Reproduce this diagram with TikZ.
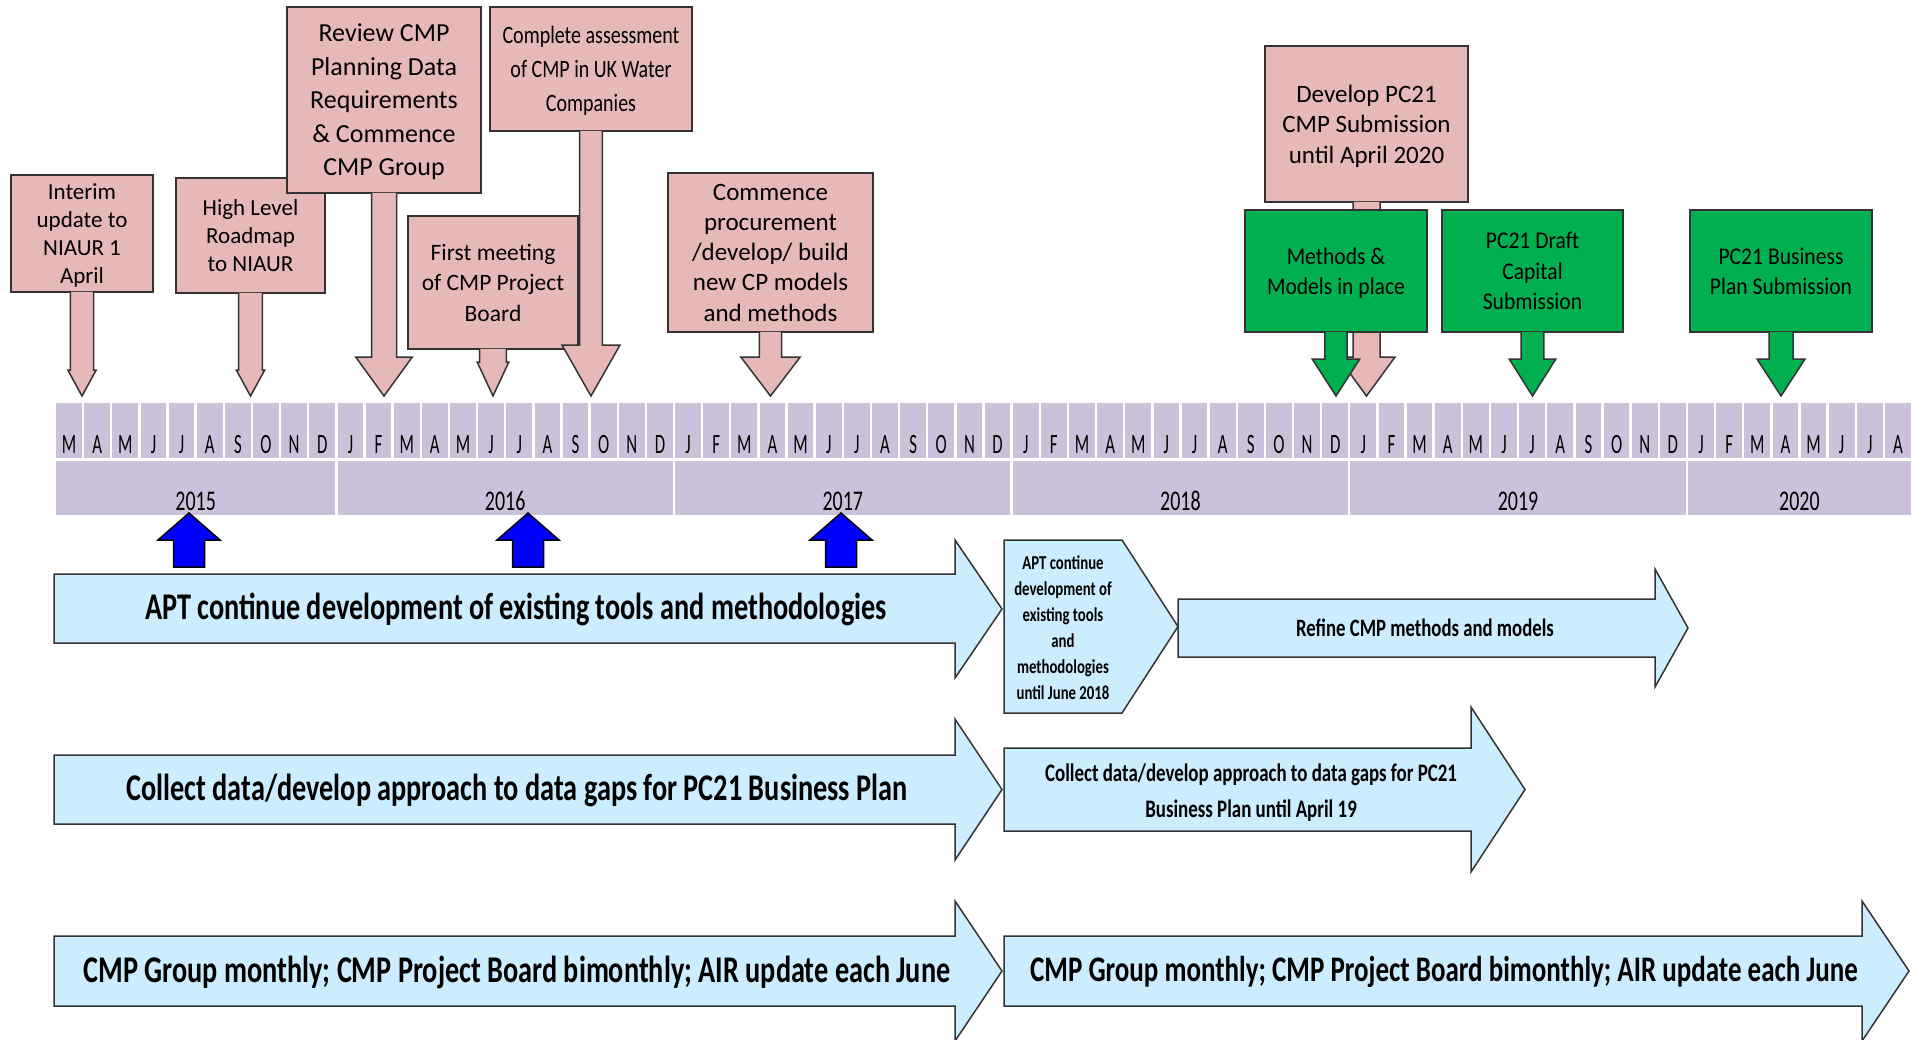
\documentclass[tikz,border=0pt]{standalone}
\usepackage{fontspec}
\setmainfont{Carlito}
\newfontfamily\monthfont[FakeStretch=0.6]{Carlito}
\newfontfamily\yearfont[FakeStretch=0.7]{Carlito}
\newfontfamily\barfont[FakeStretch=0.75]{Carlito}
\newfontfamily\greenfont[FakeStretch=0.9]{Carlito}
\newfontfamily\narrowfont[FakeStretch=0.8]{Carlito}
\usetikzlibrary{calc}

\definecolor{boxpink}{HTML}{E6B9B8}
\definecolor{boxgreen}{HTML}{00B050}
\definecolor{lav}{HTML}{CCC1DA}
\definecolor{barblue}{HTML}{CCECFF}

\tikzstyle{pinkbox} = [rectangle, draw=black!80, line width=1.5pt, fill=boxpink, align=center, inner sep=0pt, text depth=0pt, font=\fontsize{23}{28}\selectfont]
\tikzstyle{greenbox} = [pinkbox, fill=boxgreen, font=\greenfont\fontsize{24}{29.5}\selectfont]
\tikzstyle{pinkarrow} = [draw=black!80, line width=1.5pt, fill=boxpink, line join=miter]
\tikzstyle{greenarrow} = [pinkarrow, fill=boxgreen]
\tikzstyle{bararrow} = [draw=black!80, line width=1.5pt, fill=barblue, line join=miter]
\tikzstyle{bluearrow} = [draw=black, line width=1.5pt, fill=blue, line join=miter]
\tikzstyle{monthlabel} = [anchor=base, inner sep=0pt, font=\monthfont\fontsize{28}{30}\selectfont]
\tikzstyle{yearlabel} = [anchor=base, inner sep=0pt, font=\yearfont\fontsize{28.5}{30}\selectfont]
\tikzstyle{bartext} = [inner sep=0pt, align=center, font=\barfont\bfseries\fontsize{37.7}{45}\selectfont]

% callout arrow: style, box, tip, stem half width, head half width, head length
\newcommand{\downblock}[6]{%
  \path[#1] let \p1=(#2.south), \p2=(#3) in
    (\x1-#4,\y1+1pt) -- (\x1-#4,\y2+#6) -- (\x1-#5,\y2+#6) -- (\x1,\y2)
    -- (\x1+#5,\y2+#6) -- (\x1+#4,\y2+#6) -- (\x1+#4,\y1+1pt);
}
\newcommand{\upblock}[1]{%
  \path[bluearrow] let \p1=(#1) in
    (\x1,\y1) -- (\x1+31pt,\y1-27pt) -- (\x1+15.5pt,\y1-27pt) -- (\x1+15.5pt,\y1-54pt)
    -- (\x1-15.5pt,\y1-54pt) -- (\x1-15.5pt,\y1-27pt) -- (\x1-31pt,\y1-27pt) -- cycle;
}
% style, left, body right, tip, body top, body bottom, head top, head bottom
\newcommand{\rightblock}[8]{%
  \path[#1] (#2,#5) -- (#3,#5) -- (#3,#7) -- (#4,{(#7+#8)/2}) -- (#3,#8) -- (#3,#6) -- (#2,#6) -- cycle;
}

\begin{document}
\begin{tikzpicture}[x=1pt, y=-1pt]
    \useasboundingbox (0,0) rectangle (1914,1039);

    % timeline
    \foreach \m [count=\i from 0] in {M,A,M,J,J,A,S,O,N,D,J,F,M,A,M,J,J,A,S,O,N,D,J,F,M,A,M,J,J,A,S,O,N,D,J,F,M,A,M,J,J,A,S,O,N,D,J,F,M,A,M,J,J,A,S,O,N,D,J,F,M,A,M,J,J,A} {
        \fill[lav] ({55+\i*28.136+1.2},403) rectangle ({55+(\i+1)*28.136-1.2},458);
        \node (m\i) [monthlabel] at ({55+(\i+0.5)*28.136},453.5) {\m};
    }
    \foreach \yr/\a/\b in {2015/0/10, 2016/10/22, 2017/22/34, 2018/34/46, 2019/46/58, 2020/58/66} {
        \fill[lav] ({55+\a*28.136+1.2},460.5) rectangle ({55+\b*28.136-1.2},515);
        \node (y\yr) [yearlabel] at ({55+(\a+\b)/2*28.136},510) {\yr};
    }

    \coordinate (tint) at (82,396);
    \coordinate (thlr) at (250.5,396);
    \coordinate (trev) at (384,396);
    \coordinate (tfst) at (493,396);
    \coordinate (tcas) at (591,396);
    \coordinate (tcpb) at (770.5,396);
    \coordinate (tdev) at (1366.5,396);
    \coordinate (tmmp) at (1336,396);
    \coordinate (tdcs) at (1532.5,396);
    \coordinate (tbps) at (1781,396);

    % milestones
    \node (int) [pinkbox, minimum width=142pt, minimum height=117pt] at (82,233.5) {Interim\\update to\\NIAUR 1\\April};
    \downblock{pinkarrow}{int}{tint}{11.7pt}{14.2pt}{26pt}
    \node (hlr) [pinkbox, minimum width=149pt, minimum height=115pt] at (250.5,235.5) {High Level\\Roadmap\\to NIAUR};
    \downblock{pinkarrow}{hlr}{thlr}{11.8pt}{14.2pt}{26pt}
    \node (rev) [pinkbox, minimum width=194pt, minimum height=186pt, font=\fontsize{26}{33.5}\selectfont] at (384,100) {Review CMP\\Planning Data\\Requirements\\\& Commence\\CMP Group};
    \downblock{pinkarrow}{rev}{trev}{12.5pt}{28.3pt}{39pt}
    \node (fst) [pinkbox, minimum width=170pt, minimum height=133pt, font=\fontsize{23.5}{30.5}\selectfont] at (493,282.5) {First meeting\\of CMP Project\\Board};
    \downblock{pinkarrow}{fst}{tfst}{13.3pt}{15.8pt}{34pt}
    \node (cas) [pinkbox, minimum width=202pt, minimum height=124pt, font=\narrowfont\fontsize{25}{34.2}\selectfont] at (591,69) {Complete assessment\\of CMP in UK Water\\Companies};
    \downblock{pinkarrow}{cas}{tcas}{11.3pt}{29pt}{51pt}
    \node (cpb) [pinkbox, minimum width=205pt, minimum height=159pt, font=\fontsize{25}{30.3}\selectfont] at (770.5,252.5) {Commence\\procurement\\/develop/ build\\new CP models\\and methods};
    \downblock{pinkarrow}{cpb}{tcpb}{11.2pt}{29.7pt}{39pt}
    \node (dev) [pinkbox, minimum width=203pt, minimum height=156pt, font=\fontsize{25}{30.5}\selectfont] at (1366.5,124) {Develop PC21\\CMP Submission\\until April 2020};
    \downblock{pinkarrow}{dev}{tdev}{13.5pt}{28.5pt}{39pt}

    \node (mmp) [greenbox, minimum width=182pt, minimum height=122pt] at (1336,271) {Methods \&\\Models in place};
    \downblock{greenarrow}{mmp}{tmmp}{11.2pt}{23.8pt}{37pt}
    \node (dcs) [greenbox, minimum width=181pt, minimum height=122pt, font=\greenfont\fontsize{24}{30.5}\selectfont] at (1532.5,271) {PC21 Draft\\Capital\\Submission};
    \downblock{greenarrow}{dcs}{tdcs}{11.3pt}{23.3pt}{37pt}
    \node (bps) [greenbox, minimum width=182pt, minimum height=122pt] at (1781,271) {PC21 Business\\Plan Submission};
    \downblock{greenarrow}{bps}{tbps}{12pt}{24pt}{37pt}

    % markers under the years
    \coordinate (u1) at (189,513);
    \coordinate (u2) at (528,513);
    \coordinate (u3) at (841,513);
    \upblock{u1}
    \upblock{u2}
    \upblock{u3}

    % work streams
    \rightblock{bararrow}{54}{955}{1002}{574}{643}{540}{678}
    \rightblock{bararrow}{54}{955}{1002}{755}{824}{719}{860}
    \rightblock{bararrow}{54}{955}{1002}{936}{1006}{901}{1041}
    \path[bararrow] (1004,540) -- (1122,540) -- (1178,626.5) -- (1122,713) -- (1004,713) -- cycle;
    \rightblock{bararrow}{1178}{1655}{1688}{599}{657}{569}{687}
    \rightblock{bararrow}{1004}{1471}{1525}{748}{831}{707}{872}
    \rightblock{bararrow}{1004}{1862}{1909}{936}{1006}{901}{1041}

    \node (apt) [bartext] at (516,609) {APT continue development of existing tools and methodologies};
    \node (col) [bartext] at (517,790) {Collect data/develop approach to data gaps for PC21 Business Plan};
    \node (grp) [bartext] at (517,972) {CMP Group monthly; CMP Project Board bimonthly; AIR update each June};
    \node (aptb) [bartext, font=\barfont\bfseries\fontsize{19.7}{26}\selectfont] at (1063,628) {APT continue\\development of\\existing tools\\and\\methodologies\\until June 2018};
    \node (ref) [bartext, font=\barfont\bfseries\fontsize{25}{30}\selectfont] at (1425,628) {Refine CMP methods and models};
    \node (colb) [bartext, font=\barfont\bfseries\fontsize{25.2}{36}\selectfont] at (1251,793) {Collect data/develop approach to data gaps for PC21\\Business Plan until April 19};
    \node (grpb) [bartext, font=\barfont\bfseries\fontsize{36}{43}\selectfont] at (1444,972) {CMP Group monthly; CMP Project Board bimonthly; AIR update each June};
\end{tikzpicture}
\end{document}
